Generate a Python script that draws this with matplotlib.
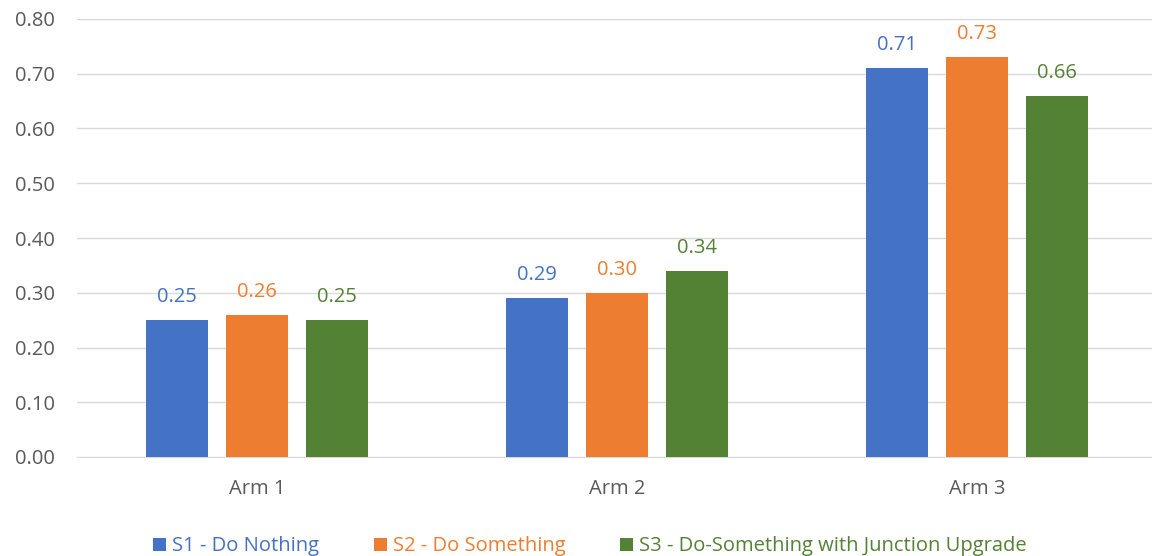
import numpy as np
import matplotlib
matplotlib.use("Agg")
import matplotlib.pyplot as plt

categories = ["Arm 1", "Arm 2", "Arm 3"]
series_names = ["S1 - Do Nothing", "S2 - Do Something", "S3 - Do-Something with Junction Upgrade"]
s1_values = [0.25, 0.29, 0.71]
s2_values = [0.26, 0.30, 0.73]
s3_values = [0.25, 0.34, 0.66]
colors = ["#4472C4", "#ED7D31", "#548235"]

plt.rcParams['font.family'] = ['Open Sans', 'DejaVu Sans']

fig = plt.figure(figsize=(11.52, 5.56), dpi=100)
ax = fig.add_axes([77 / 1152, 1 - 457 / 556, 1080 / 1152, 438 / 556])

x = np.arange(len(categories))
width = 0.174
step = 0.222
for i, (vals, name, c) in enumerate(zip([s1_values, s2_values, s3_values], series_names, colors)):
    pos = x + (i - 1) * step
    bars = ax.bar(pos, vals, width, color=c, label=name, zorder=3)
    for b, v in zip(bars, vals):
        ax.text(b.get_x() + b.get_width() / 2, v + 0.024, f"{v:.2f}",
                ha='center', va='bottom', color=c, fontsize=14.5)

ax.set_xlim(-0.5, 2.5)
ax.set_ylim(0, 0.8)
ax.set_yticks(np.arange(0, 0.81, 0.1))
ax.set_yticklabels([f"{t:.2f}" for t in np.arange(0, 0.81, 0.1)])
ax.set_xticks(x)
ax.set_xticklabels(categories)
ax.grid(axis='y', color='#D9D9D9', linewidth=1, zorder=0)
for s in ['top', 'right', 'left']:
    ax.spines[s].set_visible(False)
ax.spines['bottom'].set_color('#D9D9D9')
ax.tick_params(axis='both', length=0, labelsize=14.5, colors='#595959')
ax.tick_params(axis='x', pad=16)
ax.tick_params(axis='y', pad=16)

leg = ax.legend(loc='upper center', bbox_to_anchor=(0.475, -0.14), ncol=3, frameon=False,
                fontsize=14.5, handlelength=0.65, handleheight=0.65, columnspacing=2.7,
                handletextpad=0.3)
for t, c in zip(leg.get_texts(), colors):
    t.set_color(c)

fig.savefig("out.png", dpi=100)
